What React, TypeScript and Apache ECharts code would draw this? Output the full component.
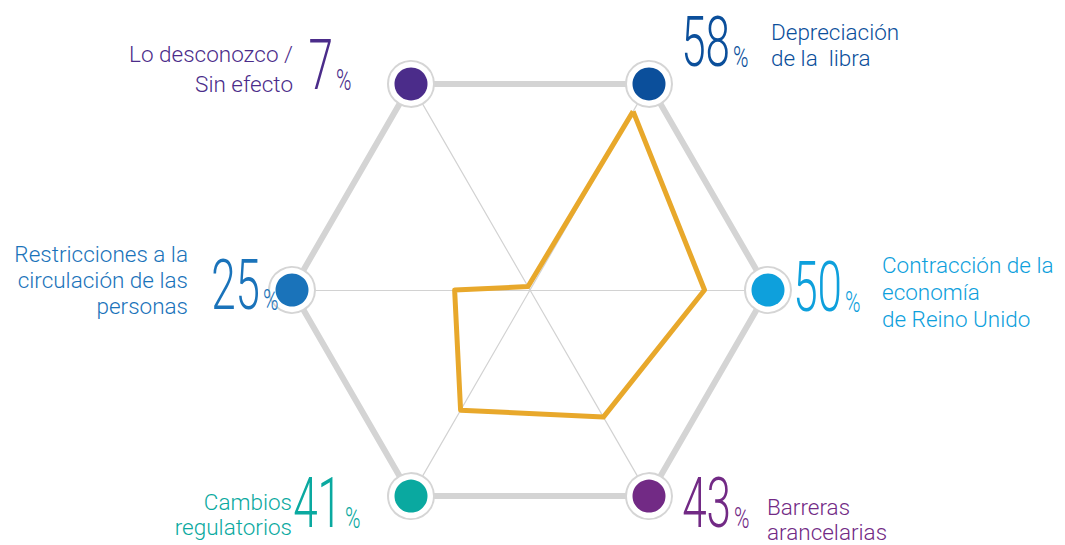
import React, { useEffect, useRef } from "react";
import * as echarts from "echarts";

// ---- data (indicator order: counter-clockwise starting at upper right) ----
const CATEGORIES = [
  "Depreciación de la libra",
  "Lo desconozco / Sin efecto",
  "Restricciones a la circulación de las personas",
  "Cambios regulatorios",
  "Barreras arancelarias",
  "Contracción de la economía de Reino Unido",
];
const VALUES = [58, 7, 25, 41, 43, 50];
const LABEL_LINES = [
  ["Depreciación", "de la  libra"],
  ["Lo desconozco /", "Sin efecto"],
  ["Restricciones a la", "circulación de las", "personas"],
  ["Cambios", "regulatorios"],
  ["Barreras", "arancelarias"],
  ["Contracción de la", "economía", "de Reino Unido"],
];
const AXIS_MIN = 6;
const AXIS_MAX = 66;

// ---- styles / layout ----
const COLORS = ["#0b4f9b", "#4b2c8a", "#1a73ba", "#0aa9a0", "#722a85", "#0ea0dc"];
const CX = 530;
const CY = 290;
const R = 238;
const START_ANGLE = 60;
// [numberRightX, numberCenterY, labelX, labelTopY, labelAlign, lineHeight]
const LAYOUT: [number, number, number, number, "left" | "right", number][] = [
  [730, 42, 771, 19, "left", 26],
  [333, 65, 293, 39, "right", 30],
  [260, 285, 188, 241, "right", 26],
  [342, 503, 292, 489, "right", 25],
  [731, 503, 767, 494, "left", 25],
  [842, 287, 882, 251, "left", 27],
];

function txt(style: any) {
  return {
    ...style,
    textAlign: style.align,
    textVerticalAlign: style.verticalAlign,
  };
}

export default function App() {
  const ref = useRef<HTMLDivElement>(null);
  useEffect(() => {
    if (!ref.current) return;
    const chart = echarts.init(ref.current, undefined, { renderer: "svg" });
    const graphics: any[] = [];
    CATEGORIES.forEach((_, i) => {
      const a = ((START_ANGLE + i * 60) * Math.PI) / 180;
      const vx = CX + R * Math.cos(a);
      const vy = CY - R * Math.sin(a);
      graphics.push({
        type: "circle",
        z: 10,
        shape: { cx: vx, cy: vy, r: 23 },
        style: { fill: "#ffffff", stroke: "#d5d5d5", lineWidth: 2 },
      });
      graphics.push({
        type: "circle",
        z: 11,
        shape: { cx: vx, cy: vy, r: 16.5 },
        style: { fill: COLORS[i] },
      });
      const [nx, ny, lx, ly, la, lh] = LAYOUT[i];
      graphics.push({
        type: "text",
        z: 12,
        x: nx,
        y: ny,
        scaleY: 1.6,
        style: txt({
          text: String(VALUES[i]),
          fill: COLORS[i],
          fontFamily: "Roboto",
          fontWeight: 300,
          fontSize: 44,
          lineHeight: 32,
          align: "right",
          verticalAlign: "middle",
        }),
      });
      graphics.push({
        type: "text",
        z: 12,
        x: nx + 3,
        y: ny + 15,
        scaleY: 1.4,
        style: txt({
          text: "%",
          fill: COLORS[i],
          fontFamily: "Roboto",
          fontWeight: 300,
          fontSize: 21,
          lineHeight: 16,
          align: "left",
          verticalAlign: "middle",
        }),
      });
      graphics.push({
        type: "text",
        z: 12,
        x: lx,
        y: ly,
        style: txt({
          text: LABEL_LINES[i].join("\n"),
          fill: COLORS[i],
          fontFamily: "Roboto",
          fontWeight: 300,
          fontSize: 22.5,
          lineHeight: lh,
          align: la,
          verticalAlign: "top",
        }),
      });
    });

    chart.setOption({
      animation: false,
      backgroundColor: "#ffffff",
      radar: {
        center: [CX, CY],
        radius: R,
        startAngle: START_ANGLE,
        shape: "polygon",
        splitNumber: 1,
        indicator: CATEGORIES.map((name) => ({ name, min: AXIS_MIN, max: AXIS_MAX })),
        axisName: { show: false },
        axisLine: { lineStyle: { color: "#d2d2d2", width: 1.2 } },
        splitLine: { lineStyle: { color: "#d4d4d4", width: 6 } },
        splitArea: { show: false },
        axisTick: { show: false },
        axisLabel: { show: false },
      },
      series: [
        {
          type: "radar",
          symbol: "none",
          lineStyle: { color: "#e8a82b", width: 5 },
          data: [{ value: VALUES, name: "Factores" }],
        },
      ],
      graphic: graphics,
    });
    return () => chart.dispose();
  }, []);
  return (
    <div
      ref={ref}
      style={{ position: "fixed", left: 0, top: 0, width: 1065, height: 545 }}
    />
  );
}
